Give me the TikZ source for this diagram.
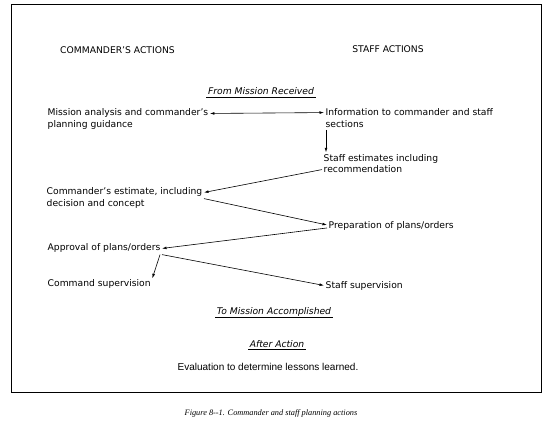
\documentclass[tikz,border=0pt]{standalone}
\usepackage{fontspec}
\setmainfont{DejaVu Sans}
\newfontfamily\evalfont{Liberation Sans}
\newfontfamily\capfont{Liberation Serif}
\usetikzlibrary{arrows.meta,calc}
\begin{document}
\begin{tikzpicture}[x=1pt,y=-1pt,
  txt/.style={inner sep=1.5pt, font=\fontsize{9.2}{11}\selectfont, anchor=base west},
  hd/.style={inner sep=1pt, font=\fontsize{9.2}{11}\selectfont, anchor=base},
  ttl/.style={inner sep=1.5pt, font=\fontsize{9.2}{11}\selectfont\itshape, anchor=base},
  tip/.tip={Latex[length=4.5pt,width=2.8pt]},
  arr/.style={-tip, line width=0.6pt},
  uline/.style={line width=0.6pt},
  frame/.style={line width=0.8pt}]
\useasboundingbox (0,0) rectangle (550,428);
\draw[frame] (11,4) rectangle (541,392);

\node[hd] (cmdh) at (117.5,54) {COMMANDER'S ACTIONS};
\node[hd] (stfh) at (388,53) {STAFF ACTIONS};
\node[ttl] (fmr) at (261,95) {From Mission Received};

\node[txt] (ma1) at (46,116) {Mission analysis and commander's};
\node[txt] (ma2) at (46,128) {planning guidance};
\node[txt] (in1) at (324,116) {Information to commander and staff};
\node[txt] (in2) at (324,128) {sections};
\node[txt] (se1) at (322,161) {Staff estimates including};
\node[txt] (se2) at (322,173) {recommendation};
\node[txt] (ce1) at (45,195) {Commander's estimate, including};
\node[txt] (ce2) at (45,207) {decision and concept};
\node[txt] (pp) at (327,229) {Preparation of plans/orders};
\node[txt] (ap) at (46,251) {Approval of plans/orders};
\node[txt] (cs) at (46,287) {Command supervision};
\node[txt] (ss) at (324,288) {Staff supervision};

\node[ttl] (tma) at (274,314) {To Mission Accomplished};
\node[ttl] (aa) at (277,347) {After Action};
\node[inner sep=1pt, font=\evalfont\fontsize{10}{12}\selectfont, anchor=base] (ev) at (268,370) {Evaluation to determine lessons learned.};
\node[inner sep=1pt, font=\capfont\itshape\fontsize{8.3}{10}\selectfont, anchor=base] (cap) at (271,415) {Figure 8--1. Commander and staff planning actions};

\draw[uline] (fmr.south west) -- (fmr.south east);
\draw[uline] (tma.south west) -- (tma.south east);
\draw[uline] (aa.south west) -- (aa.south east);

\draw[tip-tip, line width=0.6pt] (ma1.east) -- (in1.west);
\draw[arr] ($(in2.south west)+(2,0)$) -- ($(se1.north west)+(4,0)$);
\draw[arr] (se2.west) -- (ce1.east);
\draw[arr] (ce1.south east) -- ($(pp.west)+(0,-1.5)$);
\draw[arr] ($(pp.west)+(0,1.5)$) -- (ap.east);
\draw[arr] (ap.south east) -- (ss.west);
\draw[arr] ($(ap.south east)+(-2,0)$) -- (cs.north east);
\end{tikzpicture}
\end{document}
